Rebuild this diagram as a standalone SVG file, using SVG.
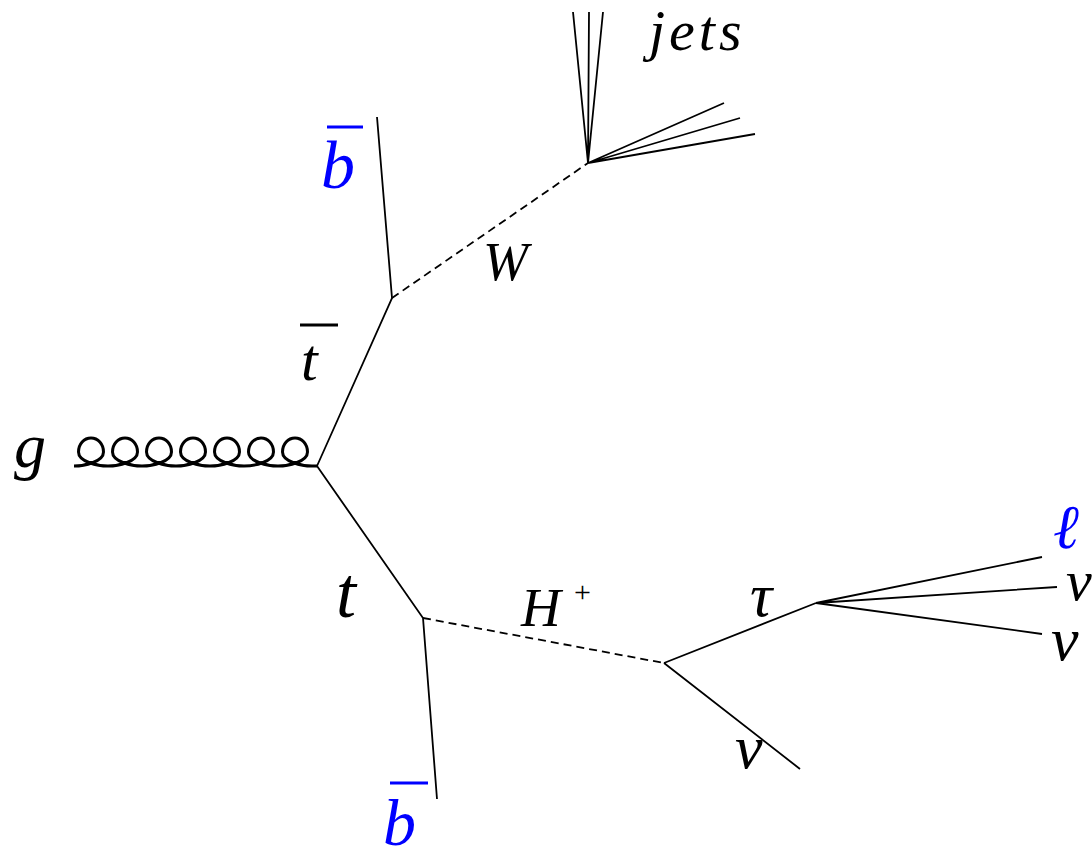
<svg xmlns="http://www.w3.org/2000/svg" width="1092" height="848" viewBox="0 0 1092 848">
<defs>
<style>
.ln{fill:none;stroke:#000;stroke-width:1.8}
.ds{fill:none;stroke:#000;stroke-width:1.8;stroke-dasharray:8 5}
.gl{fill:none;stroke:#000;stroke-width:3;stroke-linejoin:round}
.bar{stroke-width:3}
.lb{font-family:"Liberation Serif","DejaVu Serif",serif;font-style:italic}
.up{font-family:"Liberation Serif","DejaVu Serif",serif;font-style:normal}
</style>
</defs>
<rect width="1092" height="848" fill="#fff"/>
<g id="connectors">
<path class="gl" d="M74 466 c10,0 29.5,-4 29.5,-14 c0,-8 -5.5,-14 -12.5,-14 c-7,0 -12.5,6 -12.5,14 c0,10 19.5,14 29.5,14 c10,0 29.5,-4 29.5,-14 c0,-8 -5.5,-14 -12.5,-14 c-7,0 -12.5,6 -12.5,14 c0,10 19.5,14 29.5,14 c10,0 29.5,-4 29.5,-14 c0,-8 -5.5,-14 -12.5,-14 c-7,0 -12.5,6 -12.5,14 c0,10 19.5,14 29.5,14 c10,0 29.5,-4 29.5,-14 c0,-8 -5.5,-14 -12.5,-14 c-7,0 -12.5,6 -12.5,14 c0,10 19.5,14 29.5,14 c10,0 29.5,-4 29.5,-14 c0,-8 -5.5,-14 -12.5,-14 c-7,0 -12.5,6 -12.5,14 c0,10 19.5,14 29.5,14 c10,0 29.5,-4 29.5,-14 c0,-8 -5.5,-14 -12.5,-14 c-7,0 -12.5,6 -12.5,14 c0,10 19.5,14 29.5,14 c10,0 29.5,-4 29.5,-14 c0,-8 -5.5,-14 -12.5,-14 c-7,0 -12.5,6 -12.5,14 c0,10 19.5,14 29.5,14 L317 466"/>
<path class="ln" d="M317 466 L392 298 L377 117"/>
<path class="ds" d="M392 298 L588 163"/>
<path class="ln" d="M588 163 L573 12 M588 163 L589 12 M588 163 L603 12 M588 163 L724 103 M588 163 L740 118 M588 163 L755 134"/>
<path class="ln" d="M317 466 L423 618 L437 799"/>
<path class="ds" d="M423 618 L664 663"/>
<path class="ln" d="M664 663 L816 603 M664 663 L800 769"/>
<path class="ln" d="M816 603 L1042 557 M816 603 L1057 587 M816 603 L1042 634"/>
</g>
<g fill="#000">
<g id="gluon"><text class="lb" x="14" y="467" font-size="64">g</text></g>
<g id="jets"><text class="lb" x="649" y="50" font-size="58" letter-spacing="4">jets</text></g>
<g id="bbar-top"><line class="bar" x1="327" y1="127" x2="363" y2="127" stroke="#0000ff"/><text class="lb" x="321" y="188" font-size="68" fill="#0000ff">b</text></g>
<g id="tbar"><line class="bar" x1="300" y1="325" x2="338" y2="325" stroke="#000"/><text class="lb" x="301" y="380" font-size="60">t</text></g>
<g id="W"><text class="lb" x="483" y="280" font-size="54">W</text></g>
<g id="top"><text class="lb" x="336" y="617" font-size="72">t</text></g>
<g id="Hplus"><text class="lb" x="521" y="626" font-size="55">H</text><text class="up" x="574" y="602" font-size="30">+</text></g>
<g id="tau"><text class="lb" x="750" y="616" font-size="62">τ</text></g>
<g id="nu-H"><text class="lb" x="735" y="768" font-size="62">ν</text></g>
<g id="bbar-bottom"><line class="bar" x1="390" y1="783" x2="428" y2="783" stroke="#0000ff"/><text class="lb" x="383" y="845" font-size="66" fill="#0000ff">b</text></g>
<g id="lepton"><text class="lb" x="1053" y="548" font-size="62" fill="#0000ff">ℓ</text></g>
<g id="nu-1"><text class="lb" x="1066" y="600" font-size="58">ν</text></g>
<g id="nu-2"><text class="lb" x="1051" y="660" font-size="62">ν</text></g>
</g>
</svg>
